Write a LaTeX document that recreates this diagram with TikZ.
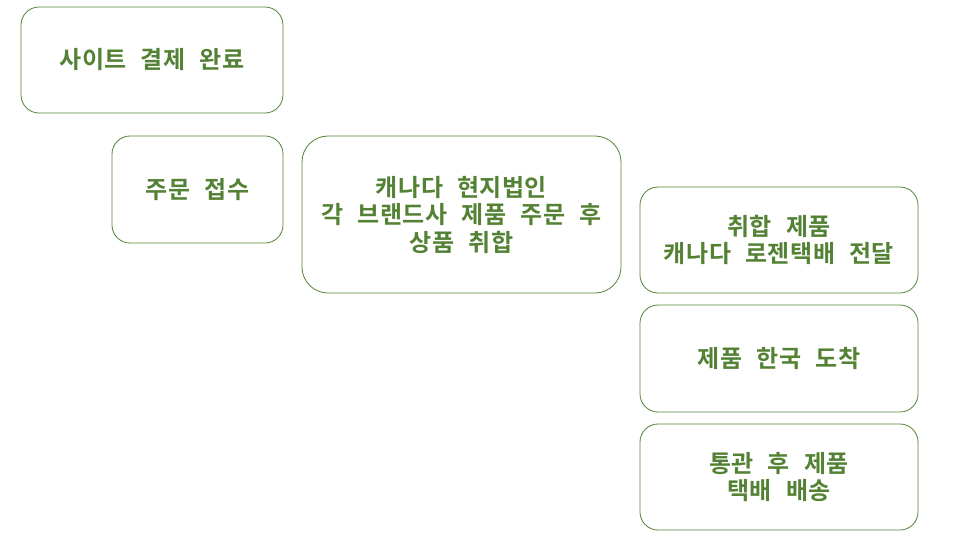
\documentclass[tikz,border=0pt]{standalone}
\usepackage{fontspec}
\newfontfamily\kr[LetterSpace=2,WordSpace=2.4,BoldFont={Noto Sans CJK KR Bold}]{Noto Sans CJK KR}
\definecolor{stepgreen}{HTML}{548235}

\begin{document}
\begin{tikzpicture}[x=1pt,y=-1pt,
    stepbox/.style={draw=stepgreen, line width=0.8pt, rounded corners=18pt,
        text=stepgreen, align=center, inner sep=0pt,
        font=\kr\bfseries\fontsize{24}{27.5}\selectfont}]
    \useasboundingbox (0,0) rectangle (963,539);
    \node[stepbox, minimum width=262pt, minimum height=106pt] (paid) at (152,60) {사이트 결제 완료};
    \node[stepbox, minimum width=171pt, minimum height=107pt] (order) at (197.5,189.5) {주문 접수};
    \node[stepbox, minimum width=319pt, minimum height=157pt, rounded corners=26pt] (collect) at (461.5,214.5) {캐나다 현지법인\\각 브랜드사 제품 주문 후\\상품 취합};
    \node[stepbox, minimum width=278pt, minimum height=106pt] (ship) at (779,240) {취합 제품\\캐나다 로젠택배 전달};
    \node[stepbox, minimum width=278pt, minimum height=107pt] (arrive) at (779,358.5) {제품 한국 도착};
    \node[stepbox, minimum width=278pt, minimum height=106pt] (deliver) at (779,477) {통관 후 제품\\택배 배송};
\end{tikzpicture}
\end{document}
